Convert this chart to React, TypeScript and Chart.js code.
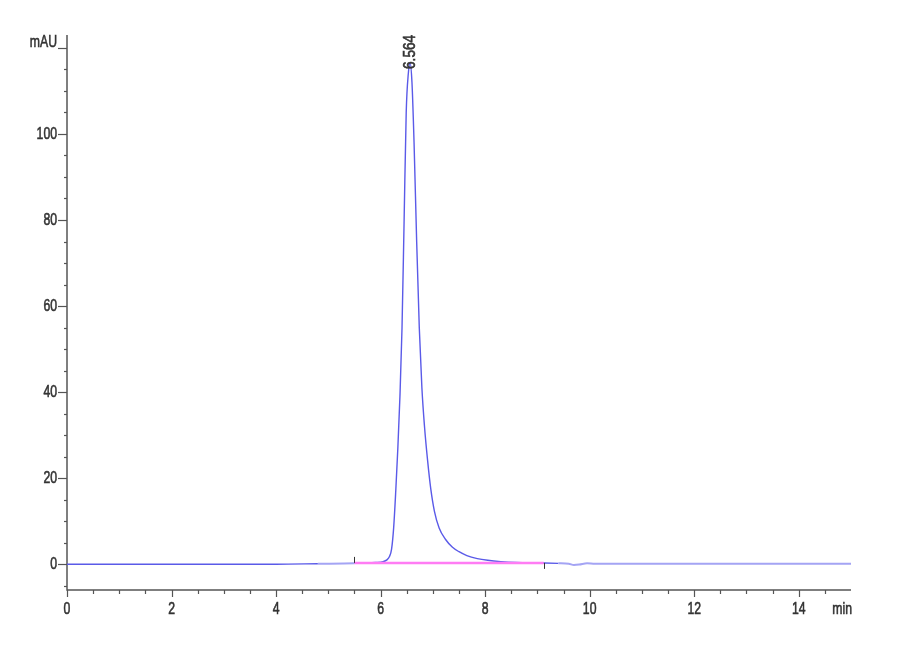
import { useEffect, useRef } from 'react'
import { Chart, registerables } from 'chart.js'

Chart.register(...registerables)

// retention time (min) and absorbance (mAU)
const TIME = [
  0, 1, 2, 3, 4, 4.8, 5.5, 5.9, 6.05, 6.12, 6.17, 6.21, 6.25, 6.29, 6.33, 6.37,
  6.41, 6.45, 6.49, 6.53, 6.564, 6.6, 6.64, 6.69, 6.74, 6.79, 6.84, 6.9, 6.96,
  7.03, 7.12, 7.24, 7.37, 7.5, 7.65, 7.85, 8.05, 8.3, 8.6, 9.0, 9.4, 9.6, 9.7,
  9.8, 9.95, 10.1, 10.4, 11, 12, 13, 14, 15,
]
const SIGNAL = [
  0, 0, 0, 0, 0, 0.1, 0.2, 0.4, 0.6, 1.0, 1.8, 3.5, 8.5, 17, 27, 39,
  55, 80, 105, 114, 116.5, 112, 98, 75, 55, 41, 32, 24, 17.5,
  12.3, 8.4, 5.8, 4, 2.9, 2, 1.3, 0.9, 0.6, 0.4, 0.3, 0.2, 0.1, -0.2,
  -0.1, 0.2, 0.1, 0.1, 0.1, 0.1, 0.1, 0.1, 0.1,
]

// integration baseline of the peak
const BASELINE_TIME = [5.5, 9.12]
const BASELINE_LEVEL = [0.3, 0.3]

const PEAK_TIME = 6.564
const PEAK_HEIGHT = 116.5
const PEAK_LABEL = '6.564'

const X_TICKS = [0, 2, 4, 6, 8, 10, 12, 14]
const X_TICK_LABELS = ['0', '2', '4', '6', '8', '10', '12', '14']
const X_UNIT = 'min'
const Y_TICKS = [0, 20, 40, 60, 80, 100, 120]
const Y_TICK_LABELS = ['0', '20', '40', '60', '80', '100', 'mAU']

const X_MIN = 0
const X_MAX = 15
const Y_MIN = -6
const Y_MAX = 123

const AXIS_COLOR = '#555'
const TEXT_COLOR = '#333'
const FONT = '17px "Liberation Sans", Arial, sans-serif'

// the instrument prints a tall, condensed, slightly heavy face:
// squeeze Liberation Sans sideways and give it a hairline outline
function drawNarrow(ctx: any, text: string, x: number, y: number, squeeze = 0.72) {
  ctx.save()
  ctx.translate(x, y)
  ctx.scale(squeeze, 1)
  ctx.strokeStyle = TEXT_COLOR
  ctx.lineWidth = 0.6
  ctx.strokeText(text, 0, 0)
  ctx.fillText(text, 0, 0)
  ctx.restore()
}

const axesPlugin = {
  id: 'hplcAxes',
  beforeDatasetsDraw(chart: any) {
    const { ctx, chartArea, scales } = chart
    const x = scales.x
    const y = scales.y
    const left = chartArea.left
    const bottom = chartArea.bottom
    ctx.save()
    ctx.strokeStyle = AXIS_COLOR
    ctx.lineWidth = 1.5

    // axis lines
    ctx.beginPath()
    ctx.moveTo(left, chartArea.top)
    ctx.lineTo(left, bottom)
    ctx.lineTo(chartArea.right, bottom)
    ctx.stroke()

    ctx.lineWidth = 1.2
    // y ticks: major every 20, minor every 5
    for (let v = -5; v <= 120; v += 5) {
      const py = Math.round(y.getPixelForValue(v)) + 0.5
      const len = v % 20 === 0 ? 9 : 3
      ctx.beginPath()
      ctx.moveTo(left - len, py)
      ctx.lineTo(left, py)
      ctx.stroke()
    }
    // x ticks: major every 2, minor every 0.5
    for (let v = 0; v <= 14.5; v += 0.5) {
      const px = Math.round(x.getPixelForValue(v)) + 0.5
      const len = v % 2 === 0 ? 7 : 4
      ctx.beginPath()
      ctx.moveTo(px, bottom)
      ctx.lineTo(px, bottom + len)
      ctx.stroke()
    }

    ctx.fillStyle = TEXT_COLOR
    ctx.font = FONT
    ctx.textAlign = 'right'
    ctx.textBaseline = 'middle'
    Y_TICKS.forEach((v, i) => {
      const py = y.getPixelForValue(v)
      const isUnit = i === Y_TICKS.length - 1
      drawNarrow(ctx, Y_TICK_LABELS[i], left - 10, isUnit ? py - 6 : py)
    })
    ctx.textAlign = 'center'
    ctx.textBaseline = 'top'
    X_TICKS.forEach((v, i) => {
      drawNarrow(ctx, X_TICK_LABELS[i], x.getPixelForValue(v), bottom + 11)
    })
    ctx.textAlign = 'right'
    drawNarrow(ctx, X_UNIT, x.getPixelForValue(X_MAX) + 1, bottom + 11)
    ctx.restore()
  },
  afterDatasetsDraw(chart: any) {
    const { ctx, scales } = chart
    const x = scales.x
    const y = scales.y
    ctx.save()
    // baseline start / end marks
    ctx.strokeStyle = '#333'
    ctx.lineWidth = 1
    const sx = Math.round(x.getPixelForValue(BASELINE_TIME[0])) + 0.5
    const sy = y.getPixelForValue(BASELINE_LEVEL[0])
    ctx.beginPath()
    ctx.moveTo(sx, sy - 6)
    ctx.lineTo(sx, sy)
    ctx.stroke()
    const ex = Math.round(x.getPixelForValue(BASELINE_TIME[1])) + 0.5
    const ey = y.getPixelForValue(BASELINE_LEVEL[1])
    ctx.beginPath()
    ctx.moveTo(ex, ey)
    ctx.lineTo(ex, ey + 6)
    ctx.stroke()

    // retention time label, rotated
    const px = x.getPixelForValue(PEAK_TIME)
    const py = y.getPixelForValue(PEAK_HEIGHT)
    ctx.translate(px, py + 6)
    ctx.rotate(-Math.PI / 2)
    ctx.fillStyle = TEXT_COLOR
    ctx.font = FONT
    ctx.textAlign = 'left'
    ctx.textBaseline = 'middle'
    drawNarrow(ctx, PEAK_LABEL, 0, 0, 0.8)
    ctx.restore()
  },
}

export default function App() {
  const canvasRef = useRef<HTMLCanvasElement>(null)
  const chartRef = useRef<Chart | null>(null)

  useEffect(() => {
    if (!canvasRef.current) return
    if (chartRef.current) chartRef.current.destroy()

    chartRef.current = new Chart(canvasRef.current, {
      type: 'line',
      data: {
        datasets: [
          {
            data: BASELINE_TIME.map((t, i) => ({ x: t, y: BASELINE_LEVEL[i] })),
            borderColor: '#ff7cf4',
            borderWidth: 2.5,
            pointRadius: 0,
          },
          {
            data: TIME.map((t, i) => ({ x: t, y: SIGNAL[i] })),
            borderColor: '#5a5ae8',
            borderWidth: 1.4,
            pointRadius: 0,
            cubicInterpolationMode: 'monotone',
            segment: {
              borderColor: (c: any) =>
                c.p0.parsed.x >= 4.8 && (c.p1.parsed.x <= 5.5 || c.p0.parsed.x >= 9.1)
                  ? '#a4a4f4'
                  : '#5a5ae8',
              borderWidth: (c: any) =>
                c.p0.parsed.x >= 4.8 && (c.p1.parsed.x <= 5.5 || c.p0.parsed.x >= 9.1) ? 2 : 1.4,
            },
          },
        ],
      },
      options: {
        animation: false,
        responsive: true,
        maintainAspectRatio: false,
        layout: { padding: { left: 67, right: 49, top: 35, bottom: 70 } },
        plugins: { legend: { display: false }, tooltip: { enabled: false } },
        scales: {
          x: { type: 'linear', min: X_MIN, max: X_MAX, display: false },
          y: { type: 'linear', min: Y_MIN, max: Y_MAX, display: false },
        },
      },
      plugins: [axesPlugin],
    })

    return () => {
      if (chartRef.current) {
        chartRef.current.destroy()
        chartRef.current = null
      }
    }
  }, [])

  return (
    <div style={{ position: 'fixed', left: 0, top: 0, width: 900, height: 660, background: '#fff' }}>
      <canvas ref={canvasRef} />
    </div>
  )
}
